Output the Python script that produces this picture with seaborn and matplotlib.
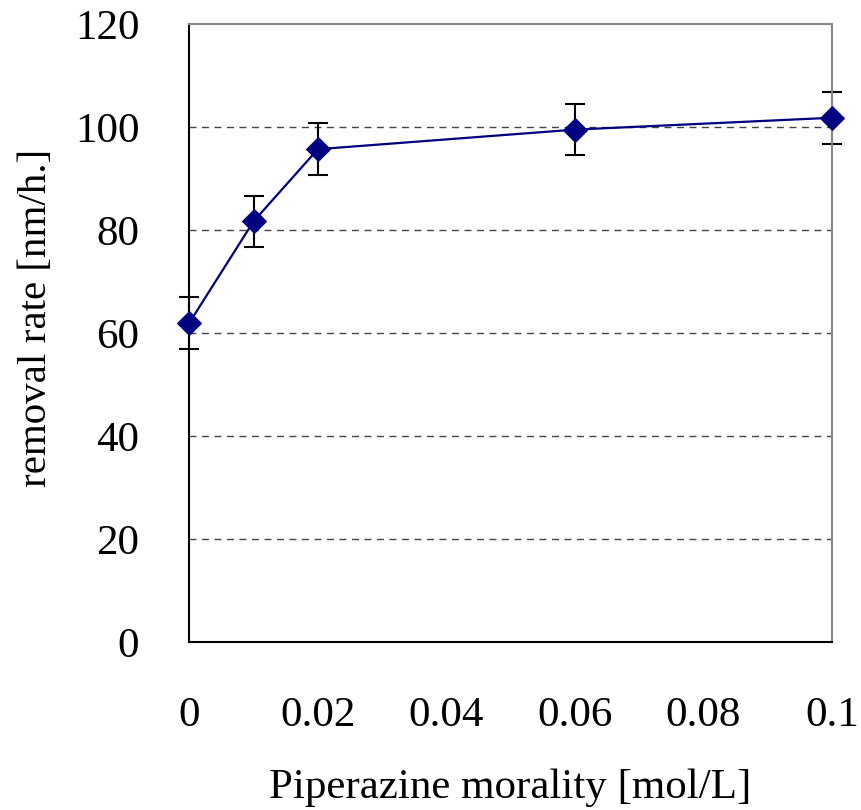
import matplotlib
matplotlib.use("Agg")
import matplotlib.pyplot as plt
import seaborn as sns
import pandas as pd

# Measured removal rate vs piperazine concentration
molality = [0.0, 0.01, 0.02, 0.06, 0.1]
removal_rate = [62.0, 81.7, 95.7, 99.5, 101.8]
rate_err = [5.0, 5.0, 5.0, 5.0, 5.0]

x_ticks = [0, 0.02, 0.04, 0.06, 0.08, 0.1]
x_tick_labels = ["0", "0.02", "0.04", "0.06", "0.08", "0.1"]
y_ticks = [0, 20, 40, 60, 80, 100, 120]
y_tick_labels = ["0", "20", "40", "60", "80", "100", "120"]

df = pd.DataFrame({"molality": molality, "rate": removal_rate, "err": rate_err})

sns.set_theme(style="white")
plt.rcParams["font.family"] = ["Liberation Serif", "DejaVu Serif"]

fig = plt.figure(figsize=(8.62, 8.10), dpi=100)
ax = fig.add_axes([0.2196, 0.207, 0.7456, 0.7634])

# dashed horizontal gridlines
for yv in y_ticks[1:-1]:
    ax.axhline(yv, color="#444444", lw=1.0, ls=(0, (5, 4)), zorder=0)

ax.errorbar(df["molality"], df["rate"], yerr=df["err"], fmt="none",
            ecolor="black", elinewidth=1.5, capsize=7, capthick=1.5,
            zorder=2, clip_on=False)
sns.lineplot(data=df, x="molality", y="rate", ax=ax, color="#000080",
             lw=1.6, marker="D", markersize=12, markeredgecolor="#000080",
             markerfacecolor="#000080", zorder=3, clip_on=False)

ax.set_xlim(0, 0.1)
ax.set_ylim(0, 120)
ax.set_xticks(x_ticks)
ax.set_xticklabels(x_tick_labels)
ax.set_yticks(y_ticks)
ax.set_yticklabels(y_tick_labels)

ax.tick_params(axis="both", direction="in", length=9, width=1.0,
               color="black", labelsize=31, labelcolor="black", pad=36)
ax.tick_params(axis="x", pad=39)

for side in ["left", "bottom"]:
    ax.spines[side].set_color("black")
    ax.spines[side].set_linewidth(1.5)
for side in ["top", "right"]:
    ax.spines[side].set_color("#888888")
    ax.spines[side].set_linewidth(1.5)

ax.set_xlabel("Piperazine morality [mol/L]", fontsize=31, color="black", labelpad=24)
ax.set_ylabel("removal rate [nm/h.]", fontsize=29.5, color="black", labelpad=14)
ax.yaxis.label.set_y(0.525)

fig.savefig("out.png", dpi=100, facecolor="white")
